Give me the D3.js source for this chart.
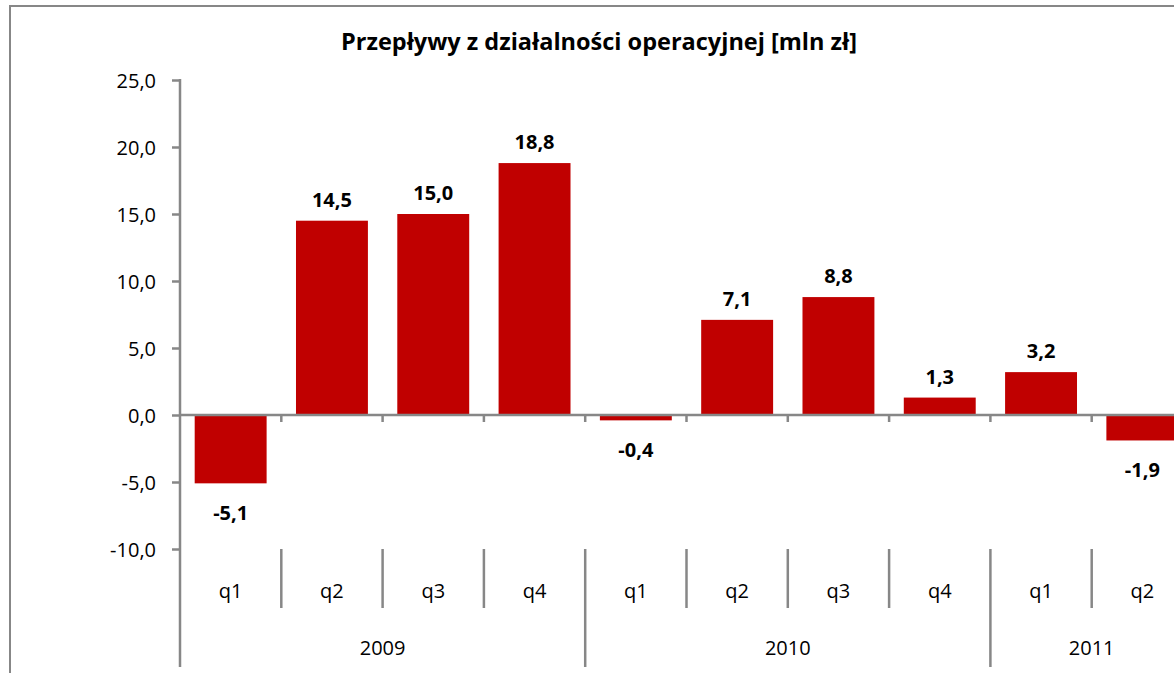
<!DOCTYPE html>
<html><head><meta charset="utf-8">
<script src="https://cdn.jsdelivr.net/npm/d3@7"></script>
<style>html,body{margin:0;padding:0;background:#fff;overflow:hidden}svg{display:block}</style>
</head><body>
<svg id="c" width="1174" height="673"></svg>
<script>
const title = "Przepływy z działalności operacyjnej [mln zł]";
const quarters = ["q1","q2","q3","q4","q1","q2","q3","q4","q1","q2"];
const years = ["2009","2009","2009","2009","2010","2010","2010","2010","2011","2011"];
const values = [-5.1, 14.5, 15.0, 18.8, -0.4, 7.1, 8.8, 1.3, 3.2, -1.9];
const yTicks = [-10, -5, 0, 5, 10, 15, 20, 25];

const svg = d3.select("#c");
const font = "'Open Sans', 'Liberation Sans', sans-serif";
const gray = "#878787";
const red = "#C00000";

// chart border (extends beyond visible area)
svg.append("rect").attr("x", 10).attr("y", 6).attr("width", 1300).attr("height", 800)
  .attr("fill", "none").attr("stroke", gray).attr("stroke-width", 2);

const x0 = 180, step = 101.3;
const idx = d3.range(values.length);
const x = d3.scaleBand().domain(idx).range([x0, x0 + step * values.length]).paddingInner(0.29).paddingOuter(0.145);
const y = d3.scaleLinear().domain([-10, 25]).range([549, 80]);
const fmt = v => d3.format(".1f")(v).replace(".", ",").replace("−", "-");

// title
svg.append("text").attr("x", 599).attr("y", 50).attr("text-anchor", "middle")
  .attr("font-family", font).attr("font-weight", "bold").attr("font-size", 23.5).attr("fill", "#000").text(title);

// bars
svg.append("g").selectAll("rect").data(values).join("rect")
  .attr("x", (d, i) => x(i)).attr("width", x.bandwidth())
  .attr("y", d => y(Math.max(0, d))).attr("height", d => Math.abs(y(d) - y(0)))
  .attr("fill", red);

// y axis
const yAxis = d3.axisLeft(y).tickValues(yTicks).tickSize(8).tickPadding(16).tickFormat(fmt);
const ga = svg.append("g").attr("transform", `translate(${x0},0)`).call(yAxis);
ga.select(".domain").remove();
ga.selectAll(".tick line").attr("stroke", gray).attr("stroke-width", 2.5);
ga.selectAll(".tick text").attr("font-family", font).attr("font-size", 20).attr("fill", "#000").attr("dy", "0.35em");
svg.append("line").attr("x1", x0).attr("x2", x0).attr("y1", y(25) - 1).attr("y2", 667)
  .attr("stroke", gray).attr("stroke-width", 2.5);

// zero line
svg.append("line").attr("x1", x0).attr("x2", 1174).attr("y1", y(0)).attr("y2", y(0))
  .attr("stroke", gray).attr("stroke-width", 2.5);

// category ticks on zero line
const bounds = d3.range(1, values.length + 1).map(i => x0 + step * i);
svg.append("g").selectAll("line").data(bounds).join("line")
  .attr("x1", d => d).attr("x2", d => d).attr("y1", y(0)).attr("y2", y(0) + 7)
  .attr("stroke", gray).attr("stroke-width", 2.5);

// category separators in label area
svg.append("g").selectAll("line").data(bounds).join("line")
  .attr("x1", d => d).attr("x2", d => d).attr("y1", 549)
  .attr("y2", (d, i) => (i < values.length - 1 && years[i] !== years[i + 1]) ? 667 : 608)
  .attr("stroke", gray).attr("stroke-width", 2.5);

// quarter labels
svg.append("g").selectAll("text").data(quarters).join("text")
  .attr("x", (d, i) => x(i) + x.bandwidth() / 2).attr("y", 598)
  .attr("text-anchor", "middle").attr("font-family", font).attr("font-size", 20).attr("fill", "#000")
  .text(d => d);

// year labels
const yearGroups = d3.groups(idx, i => years[i]);
svg.append("g").selectAll("text").data(yearGroups).join("text")
  .attr("x", d => { const a = d3.min(d[1]), b = d3.max(d[1]); return (x0 + step * a + x0 + step * (b + 1)) / 2; })
  .attr("y", 655).attr("text-anchor", "middle").attr("font-family", font).attr("font-size", 20).attr("fill", "#000")
  .text(d => d[0]);

// data labels
svg.append("g").selectAll("text").data(values).join("text")
  .attr("x", (d, i) => x(i) + x.bandwidth() / 2)
  .attr("y", d => d >= 0 ? y(d) - 14 : y(d) + 37)
  .attr("text-anchor", "middle").attr("font-family", font).attr("font-weight", "bold").attr("font-size", 20)
  .attr("fill", "#000").text(fmt);
</script>
</body></html>
